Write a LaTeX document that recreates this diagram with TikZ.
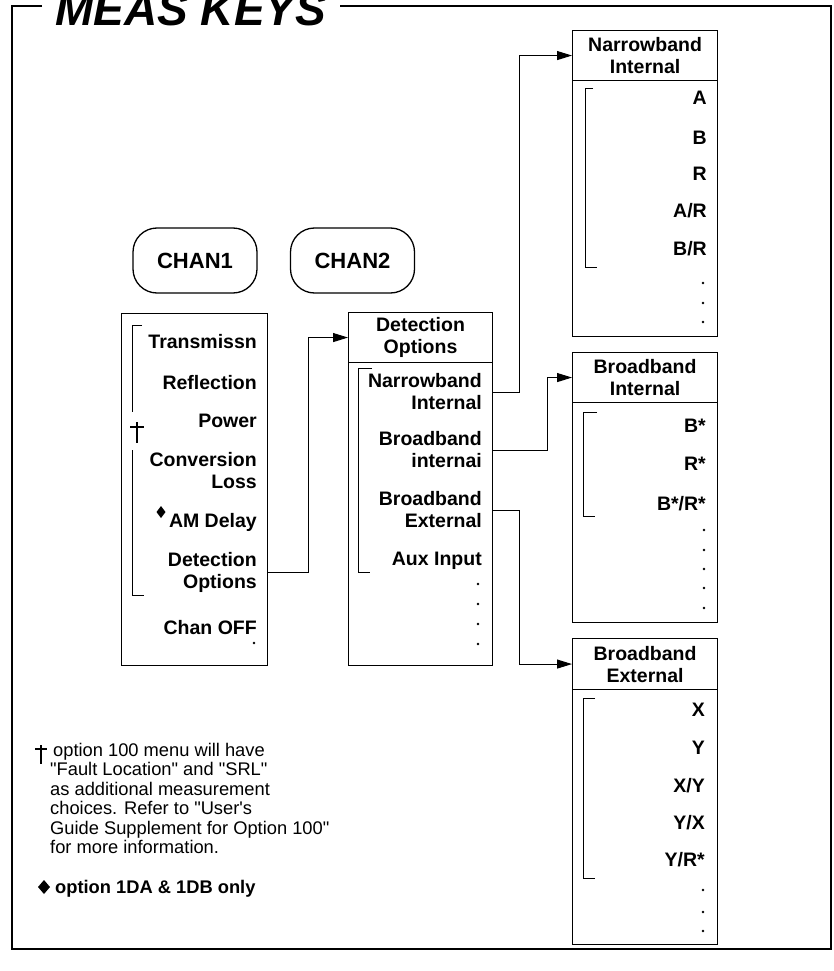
\documentclass[tikz,border=0pt]{standalone}
\usepackage{fontspec}
\setmainfont{Liberation Sans}[Ligatures=TeXOff]
\usetikzlibrary{arrows.meta,calc}
\newcommand\mitemfont{\bfseries\fontsize{19.5}{22}\selectfont}
\newcommand\mchanfont{\bfseries\fontsize{22}{24}\selectfont}
\newcommand\mnotefont{\fontsize{18.3}{19.5}\selectfont}
\begin{document}
\begin{tikzpicture}[x=1pt,y=-1pt,
  menubox/.style={draw,line width=1.1pt,inner sep=0pt,anchor=north west},
  headbox/.style={menubox,font=\mitemfont,align=center},
  item/.style={font=\mitemfont,inner sep=0pt,align=right},
  chanbox/.style={draw,line width=1.3pt,rounded corners=24pt,inner sep=0pt,font=\mchanfont,minimum width=124pt,minimum height=65pt},
  conn/.style={line width=1pt,-{Triangle[length=15pt,width=9pt]}},
  brk/.style={line width=0.8pt},
  dagline/.style={line width=1.1pt},
  frame/.style={line width=1.3pt},
  mdot/.style={circle,fill,inner sep=0pt,minimum size=2.6pt}
]
\useasboundingbox (0,0) rectangle (834,971);
\clip (0,0) rectangle (834,971);

% outer frame and title
\draw[frame] (42,6) -- (12,6) -- (12,949) -- (831,949) -- (831,6) -- (340,6);
\node[font=\bfseries\itshape\fontsize{46}{46}\selectfont,anchor=base west,inner sep=0pt] (title) at (55,26) {MEAS KEYS};

% channel keys
\node[chanbox] (chan1) at (195,260.5) {CHAN1};
\node[chanbox] (chan2) at (352.5,260.5) {CHAN2};

% CHAN1 menu
\node[menubox,minimum width=146pt,minimum height=352pt] (c1box) at (121,313) {};
\draw[brk] (142,325) -- (132,325) -- (132,412);
\draw[brk] (132,450) -- (132,595) -- (144,595);
\coordinate (dag1) at (137,422);
\draw[dagline] (dag1) -- ++(0,21);
\draw[dagline] ($(dag1)+(-7,5)$) -- ++(14,0);
\node[item,anchor=base east] (c1trans) at (257,348) {Transmissn};
\node[item,anchor=base east] (c1refl) at (257,389) {Reflection};
\node[item,anchor=base east] (c1pow) at (257,427) {Power};
\node[item,anchor=east] (c1conv) at (257,471) {Conversion\\Loss};
\node[item,anchor=base east] (c1am) at (257,527) {AM Delay};
\fill (161,506) -- (165.5,512) -- (161,518) -- (156.5,512) -- cycle;
\node[item,anchor=east] (c1det) at (257,572) {Detection\\Options};
\node[item,anchor=base east] (c1off) at (257,634) {Chan OFF};
\node[mdot] (c1d1) at (254,643) {};

% Detection Options menu
\node[headbox,minimum width=144pt,minimum height=50pt] (dethead) at (348,312) {Detection\\Options};
\node[menubox,minimum width=144pt,minimum height=303pt] (detbody) at (348,362) {};
\draw[brk] (372,368) -- (358,368) -- (358,572) -- (370,572);
\node[item,anchor=east] (dnarrow) at (482,392) {Narrowband\\Internal};
\node[item,anchor=east] (dbroadi) at (482,450) {Broadband\\internai};
\node[item,anchor=east] (dbroade) at (482,510) {Broadband\\External};
\node[item,anchor=base east] (daux) at (482,565) {Aux Input};
\node[mdot] (dd1) at (478,584) {};
\node[mdot] (dd2) at (478,604) {};
\node[mdot] (dd3) at (478,624) {};
\node[mdot] (dd4) at (478,644) {};

% Narrowband Internal menu
\node[headbox,minimum width=145pt,minimum height=50pt] (nihead) at (572,30) {Narrowband\\Internal};
\node[menubox,minimum width=145pt,minimum height=256pt] (nibody) at (572,80) {};
\draw[brk] (593,88) -- (585,88) -- (585,267) -- (597,267);
\node[item,anchor=base east] (niA) at (707,105) {A};
\node[item,anchor=base east] (niB) at (707,144) {B};
\node[item,anchor=base east] (niR) at (707,180) {R};
\node[item,anchor=base east] (niAR) at (707,217) {A/R};
\node[item,anchor=base east] (niBR) at (707,255) {B/R};
\node[mdot] (nid1) at (703,283) {};
\node[mdot] (nid2) at (703,303) {};
\node[mdot] (nid3) at (703,322) {};

% Broadband Internal menu
\node[headbox,minimum width=145pt,minimum height=50pt] (bihead) at (572,352) {Broadband\\Internal};
\node[menubox,minimum width=145pt,minimum height=220pt] (bibody) at (572,402) {};
\draw[brk] (597,412) -- (583,412) -- (583,516) -- (595,516);
\node[item,anchor=base east] (biB) at (706,432) {B*};
\node[item,anchor=base east] (biR) at (706,470) {R*};
\node[item,anchor=base east] (biBR) at (706,510) {B*/R*};
\node[mdot] (bid1) at (704,530) {};
\node[mdot] (bid2) at (704,550) {};
\node[mdot] (bid3) at (704,569) {};
\node[mdot] (bid4) at (704,588) {};
\node[mdot] (bid5) at (704,608) {};

% Broadband External menu
\node[headbox,minimum width=145pt,minimum height=51pt] (behead) at (572,638) {Broadband\\External};
\node[menubox,minimum width=145pt,minimum height=255pt] (bebody) at (572,689) {};
\draw[brk] (595,698) -- (583,698) -- (583,878) -- (595,878);
\node[item,anchor=base east] (beX) at (705,716) {X};
\node[item,anchor=base east] (beY) at (705,754) {Y};
\node[item,anchor=base east] (beXY) at (705,792) {X/Y};
\node[item,anchor=base east] (beYX) at (705,829) {Y/X};
\node[item,anchor=base east] (beYR) at (705,866) {Y/R*};
\node[mdot] (bed1) at (703,890) {};
\node[mdot] (bed2) at (703,912) {};
\node[mdot] (bed3) at (703,931) {};

% connectors
\coordinate (j1) at (308,0);
\coordinate (j2) at (519,0);
\coordinate (j3) at (547,0);
\draw[conn] (c1box.east |- c1det) -- (j1 |- c1det) |- (dethead.west);
\draw[conn] (detbody.east |- dnarrow) -- (j2 |- dnarrow) |- (nihead.west);
\draw[conn] (detbody.east |- dbroadi) -- (j3 |- dbroadi) |- (bihead.west);
\draw[conn] (detbody.east |- dbroade) -- (j2 |- dbroade) |- (behead.west);

% footnotes
\coordinate (dag2) at (41,745);
\draw[dagline] (dag2) -- ++(0,19);
\draw[dagline] ($(dag2)+(-6,4)$) -- ++(12,0);
\node[font=\mnotefont,align=left,anchor=north west,inner sep=0pt] (note1) at (50,743)
  {\hspace*{3pt}option 100 menu will have\\"Fault Location" and "SRL"\\as additional measurement\\choices. Refer to "User's\\Guide Supplement for Option 100"\\for more information.};
\fill (44,880) -- (50,887) -- (44,894) -- (38,887) -- cycle;
\node[font=\bfseries\fontsize{18.3}{19.5}\selectfont,anchor=base west,inner sep=0pt] (note2) at (55,893) {option 1DA \& 1DB only};
\end{tikzpicture}
\end{document}
